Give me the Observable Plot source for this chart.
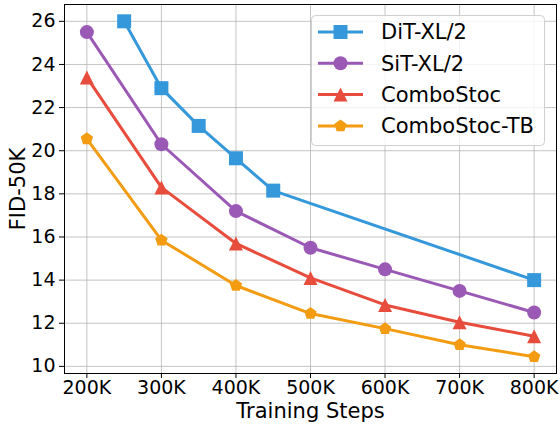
<!DOCTYPE html>
<html><head><meta charset="utf-8">
<script src="https://cdn.jsdelivr.net/npm/d3@7"></script>
<script src="https://cdn.jsdelivr.net/npm/@observablehq/plot@0.6"></script>
<style>
body{margin:0;background:#fff;}
#chart{position:relative;width:560px;height:424px;font-family:"DejaVu Sans";}
#chart svg text{fill:#000;}
g[aria-label="x-axis label"] text, g[aria-label="y-axis label"] text{font-size:21px;}
#legend{position:absolute;left:311px;top:15px;}
</style></head><body><div id="chart"></div>
<script>
// ---- data ----
const seriesNames = ["DiT-XL/2", "SiT-XL/2", "ComboStoc", "ComboStoc-TB"];
const seriesColors = ["#3498db", "#9b59b6", "#e74c3c", "#f39c12"];
const ditSteps = [250000, 300000, 350000, 400000, 450000, 800000];
const ditFid = [26.0, 22.9, 21.15, 19.65, 18.15, 14.0];
const steps = [200000, 300000, 400000, 500000, 600000, 700000, 800000];
const sitFid = [25.5, 20.3, 17.2, 15.5, 14.5, 13.5, 12.5];
const comboFid = [23.4, 18.3, 15.7, 14.1, 12.85, 12.05, 11.4];
const comboTbFid = [20.55, 15.85, 13.75, 12.45, 11.75, 11.0, 10.45];
const xTicks = [200000, 300000, 400000, 500000, 600000, 700000, 800000];
const yTicks = [10, 12, 14, 16, 18, 20, 22, 24, 26];

// ---- table ----
const rows = [];
ditSteps.forEach((s, i) => rows.push({series: seriesNames[0], step: s, fid: ditFid[i]}));
steps.forEach((s, i) => rows.push({series: seriesNames[1], step: s, fid: sitFid[i]}));
steps.forEach((s, i) => rows.push({series: seriesNames[2], step: s, fid: comboFid[i]}));
steps.forEach((s, i) => rows.push({series: seriesNames[3], step: s, fid: comboTbFid[i]}));

// ---- custom symbols (matplotlib-like) ----
const symSquare = {draw(ctx, size) { const h = Math.sqrt(size / Math.PI); ctx.rect(-h, -h, 2 * h, 2 * h); }};
const symCircle = {draw(ctx, size) { const r = Math.sqrt(size / Math.PI); ctx.moveTo(r, 0); ctx.arc(0, 0, r, 0, 2 * Math.PI); }};
const symTriangle = {draw(ctx, size) { const h = Math.sqrt(size / Math.PI); ctx.moveTo(0, -h); ctx.lineTo(h, h); ctx.lineTo(-h, h); ctx.closePath(); }};
const symPentagon = {draw(ctx, size) { const R = Math.sqrt(size / Math.PI) * 0.93;
  for (let k = 0; k < 5; k++) { const a = -Math.PI / 2 + k * 2 * Math.PI / 5; const x = R * Math.cos(a), y = R * Math.sin(a); k ? ctx.lineTo(x, y) : ctx.moveTo(x, y); }
  ctx.closePath(); }};
const symbols = [symSquare, symCircle, symTriangle, symPentagon];

const chart = Plot.plot({
  width: 560, height: 424,
  marginLeft: 64, marginRight: 4, marginTop: 4, marginBottom: 51,
  style: {fontFamily: "DejaVu Sans", fontSize: "19px", background: "#fff", color: "#000"},
  x: {domain: [170000, 830000]},
  y: {domain: [9.67, 26.78]},
  color: {domain: seriesNames, range: seriesColors},
  symbol: {domain: seriesNames, range: symbols},
  marks: [
    Plot.gridX({ticks: xTicks, stroke: "#b0b0b0", strokeOpacity: 0.75, strokeWidth: 1}),
    Plot.gridY({ticks: yTicks, stroke: "#b0b0b0", strokeOpacity: 0.75, strokeWidth: 1}),
    Plot.frame({stroke: "#000", strokeWidth: 1}),
    Plot.axisX({ticks: xTicks, tickFormat: d => d / 1000 + "K", tickSize: 5, tickPadding: 2,
      label: "Training Steps", labelAnchor: "center", labelOffset: 44, labelArrow: "none"}),
    Plot.axisY({ticks: yTicks, tickSize: 5, tickPadding: 4,
      label: "FID-50K", labelAnchor: "center", labelOffset: 54, labelArrow: "none"}),
    Plot.line(rows, {x: "step", y: "fid", z: "series", stroke: "series", strokeWidth: 3}),
    Plot.dot(rows, {x: "step", y: "fid", symbol: "series", fill: "series", stroke: "none", r: 7})
  ]
});
const host = document.getElementById("chart");
host.appendChild(chart);

// ---- legend ----
const lw = 234, lh = 131;
const leg = d3.select(host).append("svg").attr("id", "legend").attr("width", lw).attr("height", lh);
leg.append("rect").attr("x", 0.5).attr("y", 0.5).attr("width", lw - 1).attr("height", lh - 1)
  .attr("rx", 4).attr("fill", "#fff").attr("fill-opacity", 0.8).attr("stroke", "#d0d0d0");
seriesNames.forEach((name, i) => {
  const cy = 17 + i * 31.3;
  const g = leg.append("g");
  g.append("line").attr("x1", 7).attr("x2", 52).attr("y1", cy).attr("y2", cy)
    .attr("stroke", seriesColors[i]).attr("stroke-width", 3);
  g.append("path").attr("d", d3.symbol(symbols[i], Math.PI * 49)())
    .attr("transform", `translate(29.5,${cy})`).attr("fill", seriesColors[i]);
  g.append("text").attr("x", 70).attr("y", cy).attr("dy", "0.35em")
    .attr("font-family", "DejaVu Sans").attr("font-size", 21).attr("fill", "#000").text(name);
});
</script></body></html>
